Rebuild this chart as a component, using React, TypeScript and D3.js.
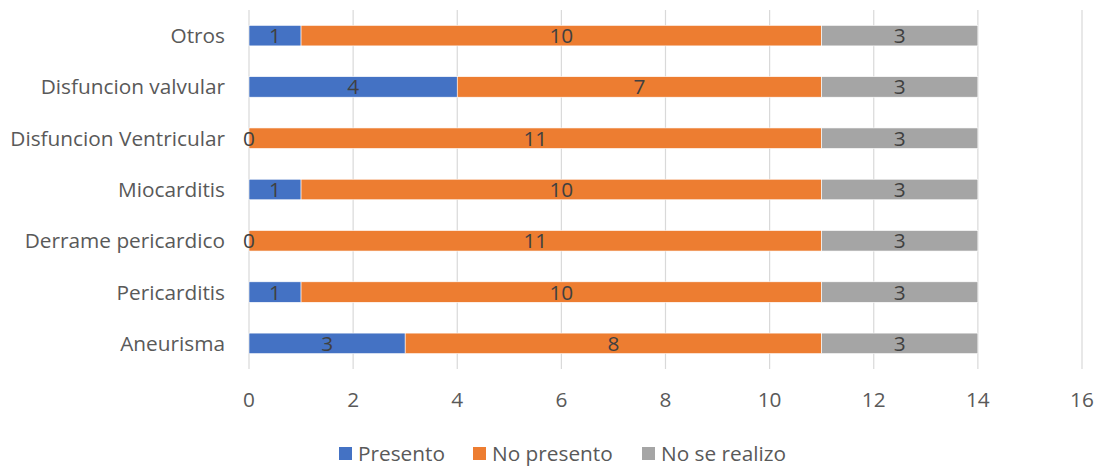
import React from 'react';
import * as d3 from 'd3';

// categories listed top to bottom
const categories = [
  'Otros',
  'Disfuncion valvular',
  'Disfuncion Ventricular',
  'Miocarditis',
  'Derrame pericardico',
  'Pericarditis',
  'Aneurisma',
];
const presento = [1, 4, 0, 1, 0, 1, 3];
const noPresento = [10, 7, 11, 10, 11, 10, 8];
const noSeRealizo = [3, 3, 3, 3, 3, 3, 3];
const xTicks = [0, 2, 4, 6, 8, 10, 12, 14, 16];

const seriesNames = ['Presento', 'No presento', 'No se realizo'];
const colors = ['#4472C4', '#ED7D31', '#A5A5A5'];

const W = 1101;
const H = 466;
const font = '"Open Sans", sans-serif';
const fs = 20.8;

const App = () => {
  const x = d3.scaleLinear().domain([0, 16]).range([249, 1082]);
  const y = d3.scaleBand().domain(categories).range([10, 369]).paddingInner(0.6).paddingOuter(0.3);

  const rows = categories.map((c, i) => ({ '0': presento[i], '1': noPresento[i], '2': noSeRealizo[i] }));
  const stack = d3.stack().keys(['0', '1', '2'])(rows as any);

  const legendX = [339, 473, 642];

  return (
    <svg width={W} height={H} style={{ position: 'absolute', left: 0, top: 0, background: '#fff' }}>
      {/* gridlines */}
      {xTicks.map((t) => (
        <line key={'g' + t} x1={x(t)} x2={x(t)} y1={10} y2={369} stroke="#D9D9D9" strokeWidth={1.2} />
      ))}
      {/* bars */}
      {stack.map((s, si) =>
        s.map((d, i) => (
          <rect
            key={si + '-' + i}
            x={x(d[0])}
            y={y(categories[i])}
            width={x(d[1]) - x(d[0])}
            height={y.bandwidth()}
            fill={colors[si]}
            stroke="#fff"
            strokeWidth={0.6}
          />
        ))
      )}
      {/* data labels */}
      {stack.map((s, si) =>
        s.map((d, i) => (
          <text
            key={'l' + si + '-' + i}
            x={(x(d[0]) + x(d[1])) / 2}
            y={(y(categories[i]) as number) + y.bandwidth() / 2}
            dy="0.36em"
            textAnchor="middle"
            fontFamily={font}
            fontSize={fs}
            fill="#404040"
          >
            {d[1] - d[0]}
          </text>
        ))
      )}
      {/* category labels */}
      {categories.map((c) => (
        <text
          key={'c' + c}
          x={225}
          y={(y(c) as number) + y.bandwidth() / 2}
          dy="0.36em"
          textAnchor="end"
          fontFamily={font}
          fontSize={fs}
          fill="#595959"
        >
          {c}
        </text>
      ))}
      {/* x tick labels */}
      {xTicks.map((t) => (
        <text key={'t' + t} x={x(t)} y={407} textAnchor="middle" fontFamily={font} fontSize={fs} fill="#595959">
          {t}
        </text>
      ))}
      {/* legend */}
      {seriesNames.map((n, i) => (
        <g key={'lg' + n}>
          <rect x={legendX[i]} y={447} width={13} height={13} fill={colors[i]} />
          <text x={legendX[i] + 19} y={461} fontFamily={font} fontSize={fs} fill="#595959">
            {n}
          </text>
        </g>
      ))}
    </svg>
  );
};

export default App;
